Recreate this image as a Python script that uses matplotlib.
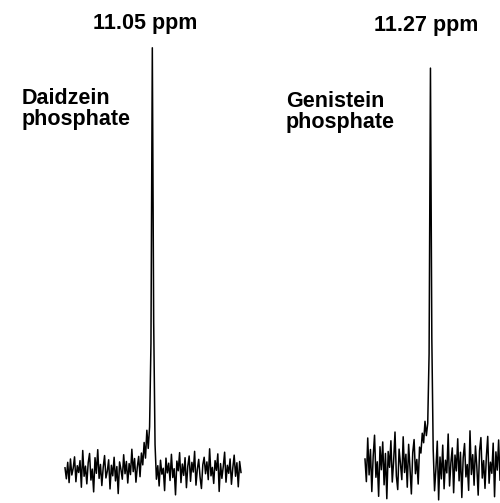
import matplotlib.pyplot as plt

# 31P NMR traces, intensity in % of peak height
daidzein = [
    0.5, -2.1, 1.8, -3.0, 2.6, -1.2, 0.4, 3.1, -2.8, 1.0,
    -0.6, 2.2, -4.1, 4.6, -1.5, 0.9, -3.3, 1.7, 3.9, -2.4,
    0.2, -5.2, 2.9, -0.8, 4.8, -2.0, 1.3, -3.7, 0.6, 3.4,
    -1.9, -0.3, 2.4, -4.5, 1.1, -1.4, 3.0, -2.6, 0.8, -5.6,
    1.9, 0.1, -2.2, 3.6, -0.9, 2.0, -3.1, 1.5, -1.1, 4.9,
    -0.4, 2.7, -2.9, 0.7, 3.2, -1.6, 4.0, 1.2, 6.5, 2.8,
    9.4, 5.1, 10.2, 30.0, 100.0, 35.0, 6.0, -2.2, 1.0, -3.8,
    2.3, -1.0, 0.4, -4.9, 2.8, -0.7, 1.6, -2.5, 3.7, -1.8,
    0.3, -5.9, 2.1, -0.2, 4.1, -3.0, 1.4, -1.3, 2.9, -4.2,
    0.9, 3.3, -2.7, 1.8, -0.5, 4.4, -3.6, 0.2, 2.5, -1.7,
    -4.4, 1.2, 3.0, -0.9, 1.9, -2.3, 5.0, -1.4, 0.6, -3.2,
    2.2, -0.1, 3.8, -5.1, 1.5, -2.0, 0.8, 4.2, -2.9, 1.1,
    -0.8, 2.6, -3.4, 0.5, 3.5, -1.5, 1.7, -4.0, 2.0, -0.6,
]
genistein = [
    1.5, -4.2, 6.8, -2.5, 3.9, -6.7, 2.2, 7.5, -3.1, 0.8,
    -7.9, 4.6, -1.2, 5.8, -5.0, 2.9, -8.5, 3.4, -0.6, 6.1,
    -4.3, 1.0, 8.3, -2.8, -6.2, 4.0, 0.3, -3.7, 7.1, -1.9,
    2.7, -5.6, 5.2, -0.9, -7.3, 3.1, 6.4, -2.2, 1.4, -4.8,
    4.5, 3.0, 8.0, 5.6, 11.0, 7.4, 10.5, 28.0, 100.0, 32.0,
    4.0, -6.5, -1.0, 6.0, -8.8, 2.0, -3.5, 5.0, -6.0, 1.2,
    -2.0, 7.8, -5.3, 0.6, 4.3, -7.0, 2.5, -1.5, 6.6, -4.0,
    3.2, -8.2, 1.8, 5.4, -3.0, 0.1, -6.4, 8.6, -2.4, 2.6,
    -5.1, 4.8, -0.4, -7.6, 3.6, 6.9, -3.3, 1.1, -5.9, 2.1,
    7.2, -4.6, 0.7, -2.1, 5.5, -8.0, 3.3, -1.3, 6.3, -3.8,
]
shifts = ["11.05 ppm", "11.27 ppm"]
names = ["Daidzein\nphosphate", "Genistein\nphosphate"]

font = dict(family=["Liberation Sans", "DejaVu Sans"], fontweight="bold",
            fontsize=15.5, color="black")

fig = plt.figure(figsize=(5.0, 5.03), dpi=100)

ax1 = fig.add_axes([0.13, 0.007, 0.352, 0.898])
ax1.plot(daidzein, color="black", lw=1.1)
ax1.set_xlim(0, len(daidzein) - 1)
ax1.set_ylim(-7, 100)

ax2 = fig.add_axes([0.73, 0.0046, 0.27, 0.860])
ax2.plot(genistein, color="black", lw=1.1)
ax2.set_xlim(0, len(genistein) - 1)
ax2.set_ylim(-9, 100)

for ax in (ax1, ax2):
    ax.axis("off")
    for line in ax.lines:
        line.set_clip_on(False)

fig.text(145 / 500, 1 - 23 / 503, shifts[0], ha="center", va="center", **font)
fig.text(426 / 500, 1 - 26 / 503, shifts[1], ha="center", va="center", **font)
fig.text(22 / 500, 1 - 109 / 503, names[0], ha="left", va="center",
         linespacing=1.05, **font)
fig.text(286 / 500, 1 - 112 / 503, names[1], ha="left", va="center",
         linespacing=1.05, **font)

fig.savefig("out.png", dpi=100, facecolor="white")
